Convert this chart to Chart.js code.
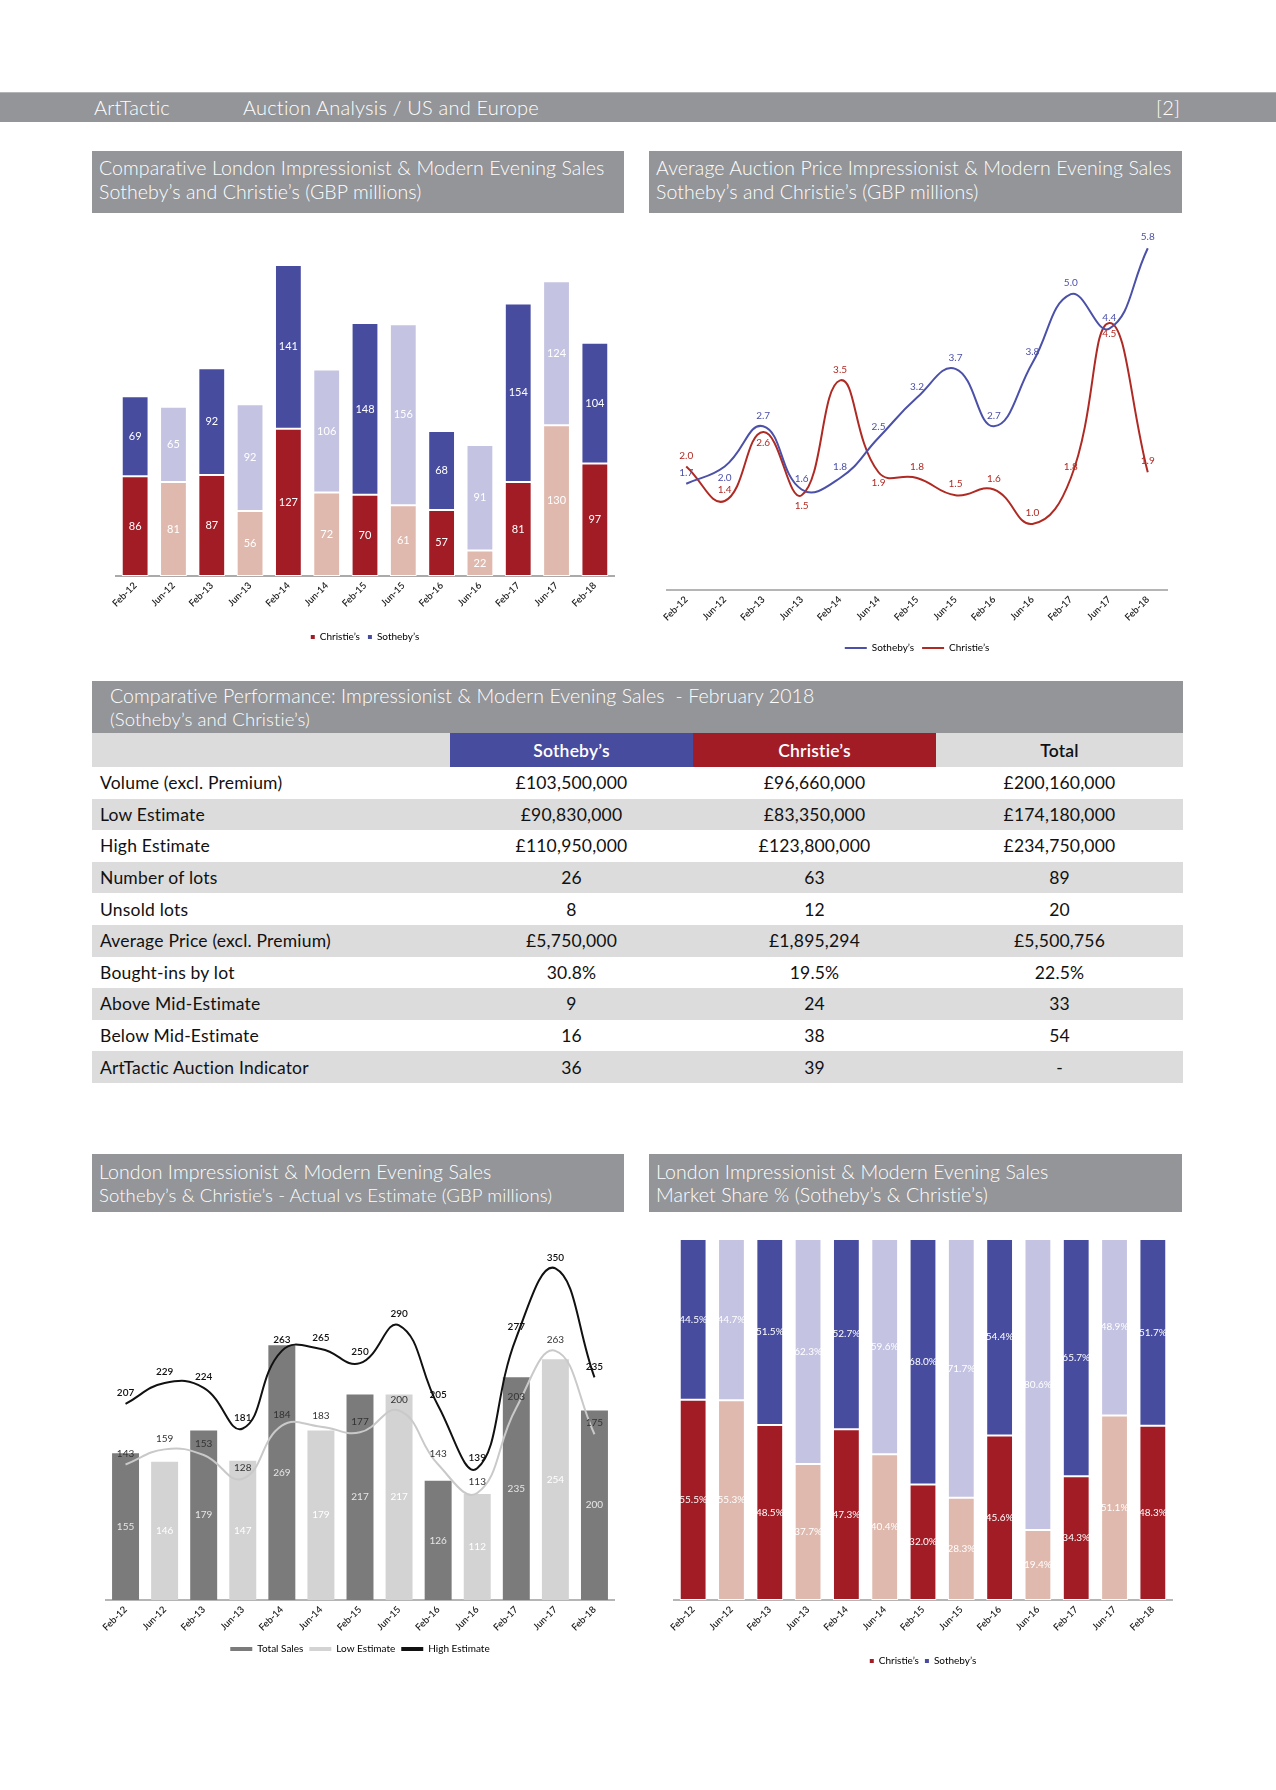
<!DOCTYPE html>
<html>
<head>
<meta charset="utf-8">
<script src="https://cdn.jsdelivr.net/npm/chart.js@4.4.1/dist/chart.umd.min.js"></script>
<style>
  html, body { margin:0; padding:0; background:#fff; }
  body { width:1276px; height:1790px; position:relative; overflow:hidden; font-family:'Lato', 'Open Sans', sans-serif; }
  .hdr { position:absolute; left:0; top:92px; width:1276px; height:30px; background:#939598; color:#fff; font-size:20px; font-weight:300; border-top:1px solid #b4b5b7; box-sizing:border-box; }
  .hdr span { position:absolute; top:2px; letter-spacing:0.2px; }
  .ttl { position:absolute; background:#939598; color:#fff; font-weight:300; font-size:19.5px; line-height:24px; box-sizing:border-box; padding:5px 0 0 7px; letter-spacing:0.1px; white-space:nowrap; }
  .box { position:absolute; }
  table { border-collapse:collapse; table-layout:fixed; width:1091px; font-size:17.5px; color:#111; letter-spacing:0.2px; }
  td { height:31.6px; padding:0; text-align:center; }
  td.lab { text-align:left; padding-left:8px; }
  tr.g td { background:#dcdcdd; }
  th { height:32px; font-weight:600; font-size:17.5px; }
</style>
</head>
<body>
<div class="hdr"><span style="left:94px">ArtTactic</span><span style="left:243px">Auction Analysis / US and Europe</span><span style="left:1156px">[2]</span></div>

<div class="ttl" style="left:92px;top:151px;width:532px;height:62px;">Comparative London Impressionist &amp; Modern Evening Sales<br>Sotheby’s and Christie’s (GBP millions)</div>
<div class="ttl" style="left:649px;top:151px;width:533px;height:62px;">Average Auction Price Impressionist &amp; Modern Evening Sales<br>Sotheby’s and Christie’s (GBP millions)</div>

<div class="box" style="left:92px;top:213px;width:532px;height:441px;"><canvas id="c1"></canvas></div>
<div class="box" style="left:649px;top:213px;width:533px;height:452px;"><canvas id="c2"></canvas></div>

<div class="ttl" style="left:92px;top:681px;width:1091px;height:52px;padding:3px 0 0 18px;line-height:23px;">Comparative Performance: Impressionist &amp; Modern Evening Sales&nbsp; - February 2018<br><span style="font-size:18.5px">(Sotheby’s and Christie’s)</span></div>
<div class="box" style="left:92px;top:733px;width:1091px;"><table id="tbl"></table></div>

<div class="ttl" style="left:92px;top:1154px;width:532px;height:58px;padding-top:6px;line-height:23px;">London Impressionist &amp; Modern Evening Sales<br><span style="font-size:18.5px">Sotheby’s &amp; Christie’s - Actual vs Estimate (GBP millions)</span></div>
<div class="ttl" style="left:649px;top:1154px;width:533px;height:58px;padding-top:6px;line-height:23px;">London Impressionist &amp; Modern Evening Sales<br>Market Share % (Sotheby’s &amp; Christie’s)</div>

<div class="box" style="left:92px;top:1212px;width:532px;height:454px;"><canvas id="c3"></canvas></div>
<div class="box" style="left:649px;top:1212px;width:533px;height:466px;"><canvas id="c4"></canvas></div>

<script>
// ---------------- DATA ----------------
const categories = ['Feb-12','Jun-12','Feb-13','Jun-13','Feb-14','Jun-14','Feb-15','Jun-15','Feb-16','Jun-16','Feb-17','Jun-17','Feb-18'];

const christiesSales = [86, 81, 87, 56, 127, 72, 70, 61, 57, 22, 81, 130, 97];
const sothebysSales  = [69, 65, 92, 92, 141, 106, 148, 156, 68, 91, 154, 124, 104];

const sothebysAvgPrice  = [1.7, 2.0, 2.7, 1.6, 1.8, 2.5, 3.2, 3.7, 2.7, 3.8, 5.0, 4.4, 5.8];
const christiesAvgPrice = [2.0, 1.4, 2.6, 1.5, 3.5, 1.9, 1.8, 1.5, 1.6, 1.0, 1.8, 4.5, 1.9];

const totalSales   = [155, 146, 179, 147, 269, 179, 217, 217, 126, 112, 235, 254, 200];
const lowEstimate  = [143, 159, 153, 128, 184, 183, 177, 200, 143, 113, 203, 263, 175];
const highEstimate = [207, 229, 224, 181, 263, 265, 250, 290, 205, 139, 277, 350, 235];

const christiesShare = [55.5, 55.3, 48.5, 37.7, 47.3, 40.4, 32.0, 28.3, 45.6, 19.4, 34.3, 51.1, 48.3];
const sothebysShare  = [44.5, 44.7, 51.5, 62.3, 52.7, 59.6, 68.0, 71.7, 54.4, 80.6, 65.7, 48.9, 51.7];

const tableHeaders   = ['', 'Sotheby’s', 'Christie’s', 'Total'];
const tableRowLabels = ['Volume (excl. Premium)','Low Estimate','High Estimate','Number of lots','Unsold lots','Average Price (excl. Premium)','Bought-ins by lot','Above Mid-Estimate','Below Mid-Estimate','ArtTactic Auction Indicator'];
const tableSothebys  = ['£103,500,000','£90,830,000','£110,950,000','26','8','£5,750,000','30.8%','9','16','36'];
const tableChristies = ['£96,660,000','£83,350,000','£123,800,000','63','12','£1,895,294','19.5%','24','38','39'];
const tableTotal     = ['£200,160,000','£174,180,000','£234,750,000','89','20','£5,500,756','22.5%','33','54','-'];

// ---------------- STYLE ----------------
const RED = '#a21c25', RED_L = '#dfb9ad', BLUE = '#474c9f', BLUE_L = '#c4c3e2';
const GREY_D = '#7b7b7b', GREY_L = '#d3d3d3';
const alt = (a, b) => categories.map((c, i) => i % 2 === 0 ? a : b);

// ---------------- TABLE ----------------
(function buildTable(){
  const t = document.getElementById('tbl');
  let h = '<colgroup><col style="width:358px"><col style="width:243px"><col style="width:243px"><col style="width:247px"></colgroup>';
  h += '<tr><th style="background:#dcdcdd"></th><th style="background:'+BLUE+';color:#fff">'+tableHeaders[1]+'</th><th style="background:'+RED+';color:#fff">'+tableHeaders[2]+'</th><th style="background:#dcdcdd;color:#111">'+tableHeaders[3]+'</th></tr>';
  tableRowLabels.forEach((lab, i) => {
    h += '<tr class="'+(i % 2 ? 'g' : '')+'"><td class="lab">'+lab+'</td><td>'+tableSothebys[i]+'</td><td>'+tableChristies[i]+'</td><td>'+tableTotal[i]+'</td></tr>';
  });
  t.innerHTML = h;
})();

// ---------------- CHARTS ----------------
Chart.defaults.font.family = "'Lato', 'Open Sans', sans-serif";
Chart.defaults.color = '#222';
Chart.defaults.animation = false;

const labelSpecs = {};
const valueLabels = {
  id: 'valueLabels',
  afterDatasetsDraw(chart) {
    const specs = labelSpecs[chart.canvas.id];
    if (!specs) return;
    const ctx = chart.ctx;
    specs.forEach((sp, di) => {
      if (!sp) return;
      const meta = chart.getDatasetMeta(di);
      const ds = chart.data.datasets[di];
      meta.data.forEach((el, i) => {
        const v = ds.data[i];
        let txt = sp.fmt === 'pct' ? v.toFixed(1) + '%' : sp.fmt === 'd1' ? v.toFixed(1) : String(v);
        let y;
        if (meta.type === 'bar') y = (el.y + el.base) / 2;
        else { const p = sp.pos ? sp.pos[i] : 'a'; y = el.y + (p === 'b' ? sp.off : -sp.off); }
        ctx.save();
        ctx.font = sp.font;
        ctx.fillStyle = Array.isArray(sp.color) ? sp.color[i] : sp.color;
        ctx.textAlign = 'center';
        ctx.textBaseline = 'middle';
        ctx.fillText(txt, el.x, y);
        ctx.restore();
      });
    });
  }
};
Chart.register(valueLabels);

const xAxis = (h, borderColor) => ({
  grid: { display: false, drawTicks: false },
  border: { display: true, color: borderColor || '#aaaaaa', width: 2 },
  ticks: { minRotation: 45, maxRotation: 45, autoSkip: false, padding: 4, color: '#222', font: { size: 9.5, weight: '600' } },
  afterFit: (s) => { s.height = h; }
});

// Chart 1: stacked sales
labelSpecs.c1 = [
  { font: "11px 'Lato', sans-serif", color: '#ffffff' },
  { font: "11px 'Lato', sans-serif", color: '#ffffff' }
];
new Chart(document.getElementById('c1'), {
  type: 'bar',
  data: {
    labels: categories,
    datasets: [
      { label: 'Christie\u2019s', data: christiesSales, backgroundColor: alt(RED, RED_L), borderColor: '#fff', borderWidth: 1, borderSkipped: false },
      { label: 'Sotheby\u2019s', data: sothebysSales, backgroundColor: alt(BLUE, BLUE_L), borderColor: '#fff', borderWidth: 1, borderSkipped: false }
    ]
  },
  options: {
    responsive: true, maintainAspectRatio: false,
    layout: { padding: { top: 15, left: 24, right: 10, bottom: 2 } },
    datasets: { bar: { categoryPercentage: 1, barPercentage: 0.70 } },
    scales: {
      x: Object.assign(xAxis(48), { stacked: true }),
      y: { display: false, stacked: true, min: 0, max: 300 }
    },
    plugins: {
      tooltip: { enabled: false },
      legend: {
        position: 'bottom',
        labels: {
          boxWidth: 4, boxHeight: 4, padding: 8, color: '#222', font: { size: 10 },
          generateLabels: () => [
            { text: 'Christie\u2019s', fillStyle: RED, strokeStyle: RED, lineWidth: 0, datasetIndex: 0 },
            { text: 'Sotheby\u2019s', fillStyle: BLUE, strokeStyle: BLUE, lineWidth: 0, datasetIndex: 1 }
          ]
        }
      }
    }
  }
});

// Chart 2: average price lines
labelSpecs.c2 = [
  { font: "10px 'Lato', sans-serif", color: '#4b50a8', fmt: 'd1', off: 11, pos: ['a','b','a','a','a','a','a','a','a','a','a','a','a'] },
  { font: "10px 'Lato', sans-serif", color: '#b02a24', fmt: 'd1', off: 11, pos: ['a','a','b','b','a','b','a','a','a','a','a','b','a'] }
];
new Chart(document.getElementById('c2'), {
  type: 'line',
  data: {
    labels: categories,
    datasets: [
      { label: 'Sotheby\u2019s', data: sothebysAvgPrice, borderColor: '#4b50a8', borderWidth: 2, pointRadius: 0, tension: 0.45, fill: false },
      { label: 'Christie\u2019s', data: christiesAvgPrice, borderColor: '#b02a24', borderWidth: 2, pointRadius: 0, tension: 0.45, fill: false }
    ]
  },
  options: {
    responsive: true, maintainAspectRatio: false,
    layout: { padding: { top: 18, left: 18, right: 15, bottom: 2 } },
    scales: {
      x: Object.assign(xAxis(45, '#b5b5b5'), { offset: true }),
      y: { display: false, min: -0.15, max: 6.1 }
    },
    plugins: {
      tooltip: { enabled: false },
      legend: {
        position: 'bottom',
        labels: {
          boxWidth: 22, boxHeight: 2, padding: 8, color: '#222', font: { size: 10 },
          generateLabels: () => [
            { text: 'Sotheby\u2019s', fillStyle: '#4b50a8', strokeStyle: '#4b50a8', lineWidth: 0, datasetIndex: 0 },
            { text: 'Christie\u2019s', fillStyle: '#b02a24', strokeStyle: '#b02a24', lineWidth: 0, datasetIndex: 1 }
          ]
        }
      }
    }
  }
});

// Chart 3: actual vs estimate
labelSpecs.c3 = [
  { font: "10px 'Lato', sans-serif", color: alt('#e6e6e6', '#ffffff') },
  { font: "10px 'Lato', sans-serif", color: '#333333', off: 11 },
  { font: "600 10px 'Lato', sans-serif", color: '#111111', off: 11 }
];
new Chart(document.getElementById('c3'), {
  type: 'bar',
  data: {
    labels: categories,
    datasets: [
      { type: 'bar', label: 'Total Sales', data: totalSales, backgroundColor: alt(GREY_D, GREY_L), order: 3 },
      { type: 'line', label: 'Low Estimate', data: lowEstimate, borderColor: '#c9c9c9', borderWidth: 2, pointRadius: 0, tension: 0.45, order: 2 },
      { type: 'line', label: 'High Estimate', data: highEstimate, borderColor: '#111111', borderWidth: 2, pointRadius: 0, tension: 0.45, order: 1 }
    ]
  },
  options: {
    responsive: true, maintainAspectRatio: false,
    layout: { padding: { top: 28, left: 14, right: 10, bottom: 2 } },
    datasets: { bar: { categoryPercentage: 1, barPercentage: 0.69 } },
    scales: {
      x: Object.assign(xAxis(38, '#b5b5b5'), { offset: true }),
      y: { display: false, min: 0, max: 380 }
    },
    plugins: {
      tooltip: { enabled: false },
      legend: {
        position: 'bottom',
        labels: {
          boxWidth: 22, boxHeight: 4, padding: 6, color: '#222', font: { size: 10 },
          generateLabels: () => [
            { text: 'Total Sales', fillStyle: GREY_D, strokeStyle: GREY_D, lineWidth: 0, datasetIndex: 0 },
            { text: 'Low Estimate', fillStyle: '#d3d3d3', strokeStyle: '#d3d3d3', lineWidth: 0, datasetIndex: 1 },
            { text: 'High Estimate', fillStyle: '#111', strokeStyle: '#111', lineWidth: 0, datasetIndex: 2 }
          ]
        }
      }
    }
  }
});

// Chart 4: market share
labelSpecs.c4 = [
  { font: "10px 'Lato', sans-serif", color: '#ffffff', fmt: 'pct' },
  { font: "10px 'Lato', sans-serif", color: '#ffffff', fmt: 'pct' }
];
new Chart(document.getElementById('c4'), {
  type: 'bar',
  data: {
    labels: categories,
    datasets: [
      { label: 'Christie\u2019s', data: christiesShare, backgroundColor: alt(RED, RED_L), borderColor: '#fff', borderWidth: 1, borderSkipped: false },
      { label: 'Sotheby\u2019s', data: sothebysShare, backgroundColor: alt(BLUE, BLUE_L), borderColor: '#fff', borderWidth: 1, borderSkipped: false }
    ]
  },
  options: {
    responsive: true, maintainAspectRatio: false,
    layout: { padding: { top: 27, left: 25, right: 10, bottom: 2 } },
    datasets: { bar: { categoryPercentage: 1, barPercentage: 0.70 } },
    scales: {
      x: Object.assign(xAxis(50, '#b5b5b5'), { stacked: true }),
      y: { display: false, stacked: true, min: 0, max: 100 }
    },
    plugins: {
      tooltip: { enabled: false },
      legend: {
        position: 'bottom',
        labels: {
          boxWidth: 4, boxHeight: 4, padding: 6, color: '#222', font: { size: 10 },
          generateLabels: () => [
            { text: 'Christie\u2019s', fillStyle: RED, strokeStyle: RED, lineWidth: 0, datasetIndex: 0 },
            { text: 'Sotheby\u2019s', fillStyle: BLUE, strokeStyle: BLUE, lineWidth: 0, datasetIndex: 1 }
          ]
        }
      }
    }
  }
});
</script>
</body>
</html>
